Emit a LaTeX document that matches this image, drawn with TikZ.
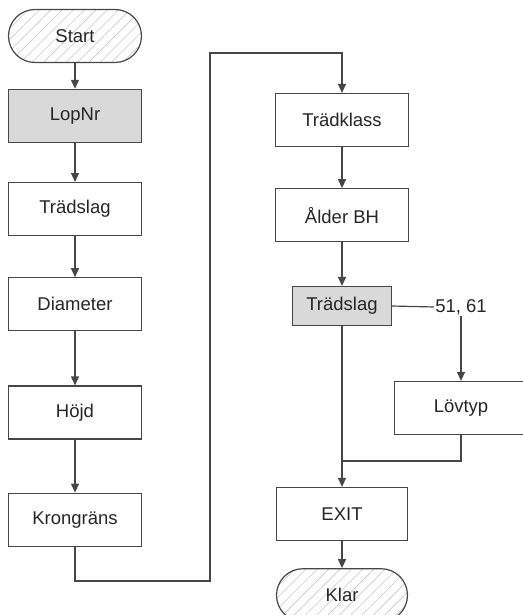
\documentclass[tikz,border=0pt]{standalone}
\usepackage{fontspec}
\setmainfont{Liberation Sans}
\usepackage{tikz}
\usetikzlibrary{arrows.meta, positioning, patterns.meta}
\definecolor{edgegray}{RGB}{70,70,70}
\definecolor{boxgray}{RGB}{217,217,217}
\definecolor{hatchgray}{RGB}{200,200,200}

\begin{document}
\begin{tikzpicture}[x=1pt, y=-1pt,
      stepbox/.style={rectangle, draw=edgegray, line width=1.2pt, fill=white,
                      minimum height=53pt, minimum width=133pt, align=center,
                      text=black!85, font=\fontsize{18.5}{20}\selectfont},
      keybox/.style={stepbox, fill=boxgray},
      term/.style={stepbox, rounded corners=26.5pt,
                   pattern={Lines[angle=45, distance=8pt, line width=0.6pt]},
                   pattern color=hatchgray},
      lbl/.style={font=\fontsize{18.5}{20}\selectfont, text=black!85, inner sep=1pt},
      arr/.style={-{Triangle[length=9pt, width=8pt]}, line width=1.2pt, draw=edgegray},
      ln/.style={line width=1.2pt, draw=edgegray}
    ]
    \useasboundingbox (0,0) rectangle (522,615);

    % left column
    \node[term] (start) at (75,36) {Start};
    \node[keybox, below=26pt of start] (lopnr) {LopNr};
    \node[stepbox, below=39pt of lopnr] (slag) {Trädslag};
    \node[stepbox, below=41pt of slag] (diam) {Diameter};
    \node[stepbox, below=54pt of diam] (hojd) {Höjd};
    \node[stepbox, below=53pt of hojd] (krona) {Krongräns};

    % right column
    \node[stepbox] (klass) at (342,120) {Trädklass};
    \node[stepbox, below=41pt of klass] (alder) {Ålder BH};
    \node[keybox, minimum width=99pt, minimum height=39pt] (slag2) at (342,306) {Trädslag};
    \node[lbl] (val) at (461,307) {51, 61};
    \node[stepbox] (lov) at (461,408) {Lövtyp};
    \node[stepbox, minimum width=131pt] (exit) at (342,514) {EXIT};
    \node[term, minimum width=131pt, below=27pt of exit] (klar) {Klar};

    \coordinate (low) at (210,581);
    \coordinate (high) at (210,53);
    \coordinate (join) at (342,461);

    \draw[arr] (start) -- (lopnr);
    \draw[arr] (lopnr) -- (slag);
    \draw[arr] (slag) -- (diam);
    \draw[arr] (diam) -- (hojd);
    \draw[arr] (hojd) -- (krona);
    \draw[arr] (krona.south) |- (low) -- (high) -| (klass.north);
    \draw[arr] (klass) -- (alder);
    \draw[arr] (alder) -- (slag2);
    \draw[ln] (slag2.east) -- (val.west);
    \draw[arr] (val.south) -- (val.south |- lov.north);
    \draw[ln] (lov.south) |- (join);
    \draw[arr] (slag2.south) -- (exit.north);
    \draw[arr] (exit) -- (klar);
  \end{tikzpicture}
\end{document}
